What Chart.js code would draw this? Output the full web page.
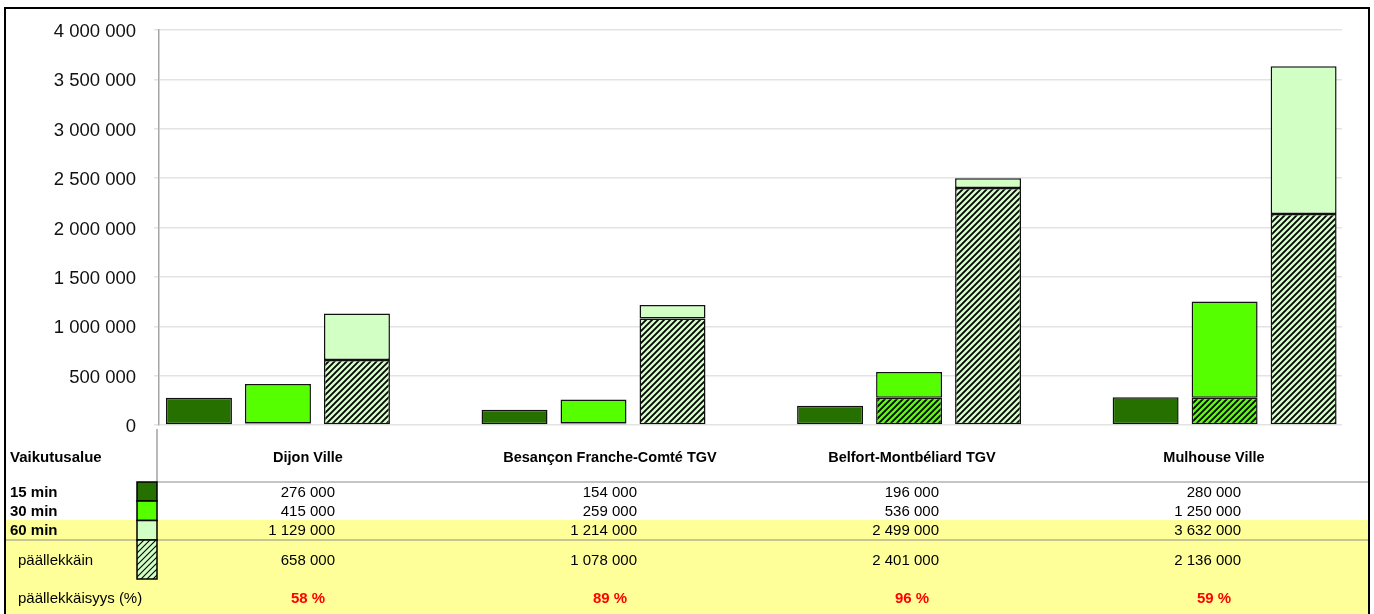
<!DOCTYPE html>
<html>
<head>
<meta charset="utf-8">
<script src="https://cdn.jsdelivr.net/npm/chart.js@4"></script>
<style>
  html, body { margin: 0; padding: 0; background: #fff; }
  canvas { display: block; }
</style>
</head>
<body>
<canvas id="myChart" width="1374" height="614"></canvas>
<script>
// stations and population reached within each travel time
const categories = ['Dijon Ville', 'Besançon Franche-Comté TGV', 'Belfort-Montbéliard TGV', 'Mulhouse Ville'];
const min15 = [276000, 154000, 196000, 280000];
const min30 = [415000, 259000, 536000, 1250000];
const min60 = [1129000, 1214000, 2499000, 3632000];
const overlap60 = [658000, 1078000, 2401000, 2136000];
// overlap part shown at the bottom of the 30 min bars
const overlap30 = [15000, 15000, 275000, 275000];
const yTicks = [0, 500000, 1000000, 1500000, 2000000, 2500000, 3000000, 3500000, 4000000];

const rowLabels = ['15 min', '30 min', '60 min'];
const headerLabel = 'Vaikutusalue';
const overlapLabel = 'päällekkäin';
const shareLabel = 'päällekkäisyys (%)';

const DARK = '#267000';
const BRIGHT = '#55ff00';
const LIGHT = '#d2ffc4';
const YELLOW = '#ffff99';
const FONT = '"Liberation Sans", Arial, sans-serif';

const fmt = (v) => String(v).replace(/\B(?=(\d{3})+(?!\d))/g, ' ');

function hatch(bg, w) {
  const c = document.createElement('canvas');
  c.width = 6;
  c.height = 6;
  const g = c.getContext('2d');
  g.fillStyle = bg;
  g.fillRect(0, 0, 6, 6);
  g.strokeStyle = '#000';
  g.lineWidth = w;
  g.beginPath();
  g.moveTo(-1, 7); g.lineTo(7, -1);
  g.moveTo(-4, 4); g.lineTo(4, -4);
  g.moveTo(2, 10); g.lineTo(10, 2);
  g.stroke();
  return g.createPattern(c, 'repeat');
}

const ctx = document.getElementById('myChart').getContext('2d');
const hatchLight = hatch(LIGHT, 1.8);
const hatchBright = hatch(BRIGHT, 1.8);
const hatchSwatch = hatch(LIGHT, 1.1);

const pts = (arr) => arr.map((v, i) => ({ x: i, y: v }));
const diff = (a, b) => a.map((v, i) => v - b[i]);

const barStyle = { borderColor: '#111', borderWidth: 1.5, borderSkipped: false,
  categoryPercentage: 0.751, barPercentage: 0.835 };

// table under the plot, drawn on the same canvas
const tablePlugin = {
  id: 'table',
  beforeDraw(chart) {
    const c = chart.ctx;
    c.save();
    c.fillStyle = '#fff';
    c.fillRect(0, 0, chart.width, chart.height);
    c.restore();
  },
  afterDraw(chart) {
    const c = chart.ctx;
    const L = 5, R = 1369, colL = 157, colW = 302;
    c.save();
    c.fillStyle = YELLOW;
    c.fillRect(L, 520, R - L, 614 - 520);

    c.strokeStyle = '#8c8c8c';
    c.lineWidth = 1.2;
    c.beginPath();
    c.moveTo(colL, 482); c.lineTo(R, 482);
    c.moveTo(L, 540); c.lineTo(R, 540);
    c.moveTo(colL, 429); c.lineTo(colL, 482);
    c.stroke();

    // legend swatches
    const sw = [[DARK, 482, 501], [BRIGHT, 501, 520.5], [LIGHT, 520.5, 540], [hatchSwatch, 540, 579]];
    sw.forEach(([fill, y0, y1]) => {
      c.fillStyle = fill;
      c.fillRect(137, y0, 20, y1 - y0);
      c.strokeStyle = '#000';
      c.lineWidth = 1.5;
      c.strokeRect(137, y0, 20, y1 - y0);
    });

    c.fillStyle = '#000';
    c.textBaseline = 'middle';
    c.textAlign = 'left';
    c.font = 'bold 15px ' + FONT;
    c.fillText(headerLabel, 10, 458);
    const rowY = [493, 512, 531];
    rowLabels.forEach((t, i) => c.fillText(t, 10, rowY[i]));
    c.font = '15px ' + FONT;
    c.fillText(overlapLabel, 18, 561);
    c.fillText(shareLabel, 18, 599);

    categories.forEach((name, i) => {
      const cx = colL + colW * (i + 0.5);
      c.textAlign = 'center';
      c.fillStyle = '#000';
      c.font = 'bold 14.5px ' + FONT;
      c.fillText(name, cx, 458);
      c.textAlign = 'right';
      c.font = '15px ' + FONT;
      [min15[i], min30[i], min60[i]].forEach((v, r) => c.fillText(fmt(v), cx + 27, rowY[r]));
      c.fillText(fmt(overlap60[i]), cx + 27, 561);
      c.textAlign = 'center';
      c.fillStyle = '#ff0000';
      c.font = 'bold 15px ' + FONT;
      c.fillText(Math.round(overlap60[i] / min60[i] * 100) + ' %', cx, 599);
    });

    // frame
    c.strokeStyle = '#000';
    c.lineWidth = 2;
    c.beginPath();
    c.moveTo(L, 620); c.lineTo(L, 8); c.lineTo(R, 8); c.lineTo(R, 620);
    c.stroke();
    c.restore();
  }
};

new Chart(ctx, {
  type: 'bar',
  data: {
    datasets: [
      { label: rowLabels[0], data: pts(min15), stack: 's15', backgroundColor: DARK, ...barStyle },
      { label: overlapLabel, data: pts(overlap30), stack: 's30', backgroundColor: hatchBright, ...barStyle },
      { label: rowLabels[1], data: pts(diff(min30, overlap30)), stack: 's30', backgroundColor: BRIGHT, ...barStyle },
      { label: overlapLabel, data: pts(overlap60), stack: 's60', backgroundColor: hatchLight, ...barStyle },
      { label: rowLabels[2], data: pts(diff(min60, overlap60)), stack: 's60', backgroundColor: LIGHT, ...barStyle },
    ],
  },
  options: {
    responsive: false,
    animation: false,
    layout: { padding: { top: 30, bottom: 189, left: 0, right: 32 } },
    plugins: { legend: { display: false }, tooltip: { enabled: false } },
    scales: {
      x: {
        type: 'linear',
        display: false,
        offset: false,
        min: -0.377,
        max: 3.372,
        afterBuildTicks: (axis) => { axis.ticks = categories.map((c, i) => ({ value: i })); },
      },
      y: {
        stacked: true,
        min: 0,
        max: 4000000,
        afterFit: (axis) => { axis.width = 159; },
        afterBuildTicks: (axis) => { axis.ticks = yTicks.map((v) => ({ value: v })); },
        border: { color: '#a6a6a6', width: 1.5 },
        grid: { color: '#e3e3e3', lineWidth: 1.5, tickLength: 5 },
        ticks: {
          padding: 18,
          labelOffset: 2,
          color: '#111',
          font: { family: FONT, size: 18.5 },
          callback: (v) => fmt(v),
        },
      },
    },
  },
  plugins: [tablePlugin],
});
</script>
</body>
</html>
